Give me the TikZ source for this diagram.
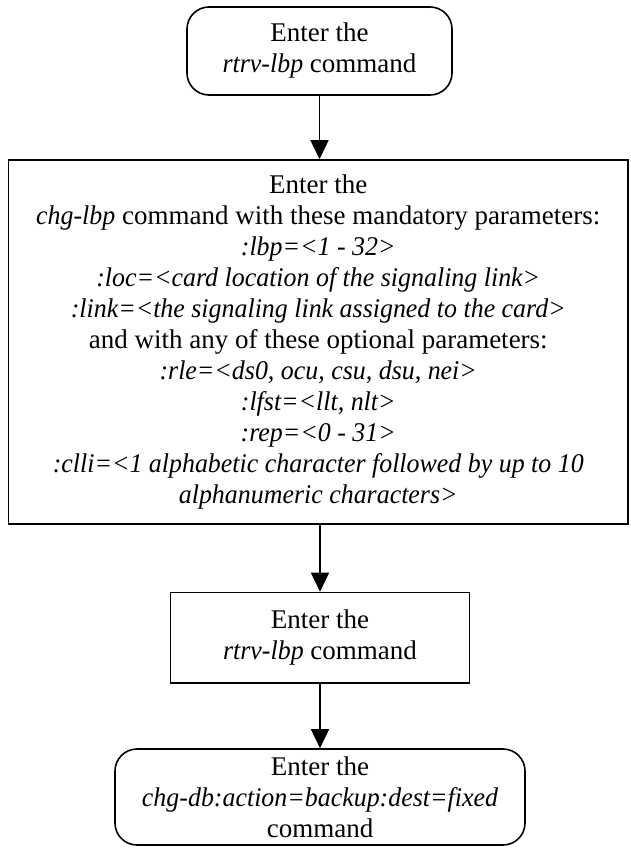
\documentclass[tikz,border=0pt]{standalone}
\usepackage{fontspec}
\setmainfont{Liberation Serif}[ItalicFeatures={FakeStretch=0.96}]
\usetikzlibrary{arrows.meta}
\begin{document}
\begin{tikzpicture}[x=1pt,y=-1pt,
  box/.style={draw, line width=1.6pt, align=center, inner sep=0pt,
    font=\fontsize{27}{31}\selectfont},
  rbox/.style={box, rounded corners=22pt},
  flow/.style={draw, line width=1.6pt, -{Triangle[length=19pt,width=18pt]}}]
\useasboundingbox (0,0) rectangle (630,848);
\node[rbox, minimum width=265pt, minimum height=88pt] (a) at (319.5,51)
  {Enter the\\\textit{rtrv-lbp} command};
\node[box, minimum width=619.5pt, minimum height=364pt] (b) at (318.25,342)
  {Enter the\\
   \textit{chg-lbp} command with these mandatory parameters:\\
   \textit{:lbp=<1 - 32>}\\
   \textit{:loc=<card location of the signaling link>}\\
   \textit{:link=<the signaling link assigned to the card>}\\
   and with any of these optional parameters:\\
   \textit{:rle=<ds0, ocu, csu, dsu, nei>}\\
   \textit{:lfst=<llt, nlt>}\\
   \textit{:rep=<0 - 31>}\\
   \textit{:clli=<1 alphabetic character followed by up to 10}\\
   \textit{alphanumeric characters>}};
\node[box, minimum width=299pt, minimum height=90.5pt] (c) at (320,637.75)
  {Enter the\\\textit{rtrv-lbp} command};
\node[rbox, minimum width=410pt, minimum height=96pt] (d) at (320,797)
  {Enter the\\\textit{chg-db:action=backup:dest=fixed}\\command};
\draw[flow] (a.south) -- (a.south |- b.north);
\draw[flow] (c.north |- b.south) -- (c.north);
\draw[flow] (c.south) -- (d.north);
\end{tikzpicture}
\end{document}
